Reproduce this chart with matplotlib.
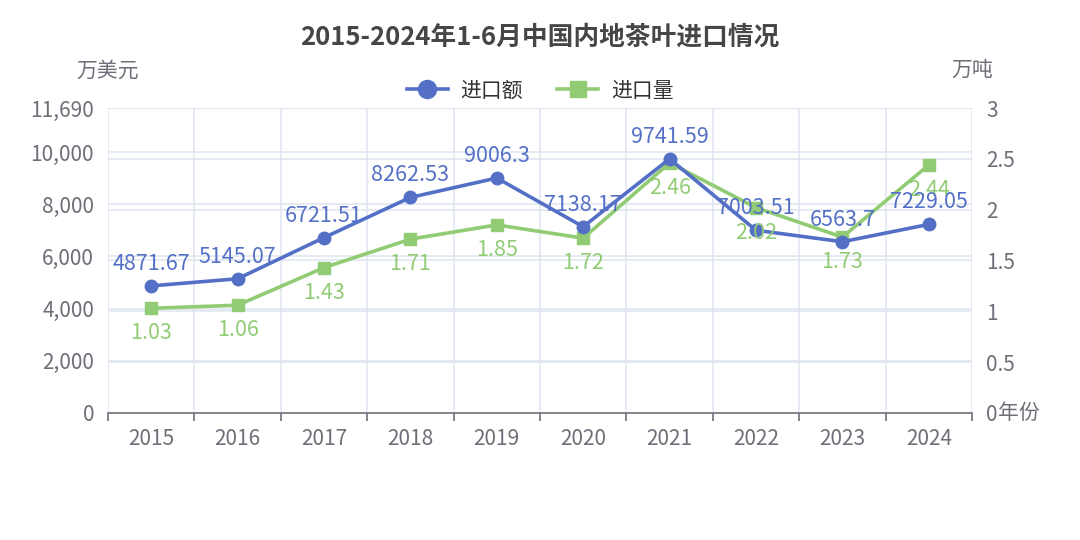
import matplotlib
matplotlib.use('Agg')
import matplotlib.pyplot as plt
import numpy as np

plt.rcParams['font.family'] = ['Noto Sans CJK SC', 'DejaVu Sans']

# ---------------------- Data ---------------------- #
years = ['2015', '2016', '2017', '2018', '2019', '2020', '2021', '2022', '2023', '2024']
import_value = [4871.67, 5145.07, 6721.51, 8262.53, 9006.3, 7138.17, 9741.59, 7003.51, 6563.7, 7229.05]  # 万美元
import_volume = [1.03, 1.06, 1.43, 1.71, 1.85, 1.72, 2.46, 2.02, 1.73, 2.44]  # 万吨
left_ticks = [0, 2000, 4000, 6000, 8000, 10000, 11690]
right_ticks = [0, 0.5, 1, 1.5, 2, 2.5, 3]

BLUE = '#5470c6'
GREEN = '#91cc75'
AXIS_GRAY = '#6e7079'
GRID = '#e0e6f1'
FS = 15

fig = plt.figure(figsize=(10.8, 5.4), dpi=100)
ax = fig.add_axes([0.1, 0.2352, 0.8, 0.5648])
ax2 = ax.twinx()

x = np.arange(len(years))
LEFT_MAX = left_ticks[-1]
RIGHT_MAX = right_ticks[-1]

# grid lines for both axes (echarts draws split lines of both y axes)
for v in left_ticks[1:]:
    ax.axhline(v, color=GRID, linewidth=1.2, zorder=0)
for v in right_ticks[1:]:
    ax2.axhline(v, color=GRID, linewidth=1.2, zorder=0)
for b in np.arange(-0.5, len(years) + 0.5, 1):
    ax.axvline(b, color=GRID, linewidth=1.2, zorder=0)

ax.set_xlim(-0.5, len(years) - 0.5)
ax.set_ylim(0, LEFT_MAX)
ax2.set_ylim(0, RIGHT_MAX)

# value series drawn on ax2 so it sits above the volume series
value_scaled = [v / LEFT_MAX * RIGHT_MAX for v in import_value]
ax2.plot(x, import_volume, color=GREEN, linewidth=2.6, marker='s', markersize=9,
         zorder=3, clip_on=False)
ax2.plot(x, value_scaled, color=BLUE, linewidth=2.6, marker='o', markersize=9,
         zorder=4, clip_on=False)

for xi, v, s in zip(x, import_value, value_scaled):
    ax2.annotate(f'{v:g}', (xi, s), xytext=(0, 8), textcoords='offset points',
                 ha='center', va='bottom', color=BLUE, fontsize=FS + 0.5, zorder=6)
for xi, v in zip(x, import_volume):
    ax2.annotate(f'{v:g}', (xi, v), xytext=(0, -10), textcoords='offset points',
                 ha='center', va='top', color=GREEN, fontsize=FS + 0.5, zorder=5)

# axes styling
for a in (ax, ax2):
    for sp in ('top', 'left', 'right', 'bottom'):
        a.spines[sp].set_visible(False)

ax.axhline(0, color=AXIS_GRAY, linewidth=1.2, zorder=5, clip_on=False)
ax.set_xticks(np.arange(-0.5, len(years) + 0.5, 1), minor=False)
ax.set_xticklabels([])
ax.tick_params(axis='x', which='major', length=6, color=AXIS_GRAY, width=1.2)
ax.set_xticks(x, minor=True)
ax.set_xticklabels(years, minor=True)
ax.tick_params(axis='x', which='minor', length=0, pad=11, labelsize=FS, labelcolor=AXIS_GRAY)

ax.set_yticks(left_ticks)
ax.set_yticklabels([f'{v:,}' for v in left_ticks])
ax.tick_params(axis='y', length=0, pad=10, labelsize=FS, labelcolor=AXIS_GRAY)

ax2.set_yticks(right_ticks)
ax2.set_yticklabels([f'{v:g}' for v in right_ticks])
ax2.tick_params(axis='y', length=0, pad=10, labelsize=FS, labelcolor=AXIS_GRAY)

# axis names
fig.text(0.1, 0.87, '万美元', ha='center', va='center', fontsize=FS, color=AXIS_GRAY)
fig.text(0.9, 0.87, '万吨', ha='center', va='center', fontsize=FS, color=AXIS_GRAY)
fig.text(0.924, 0.2352, '年份', ha='left', va='center', fontsize=FS, color=AXIS_GRAY)

fig.text(0.5, 0.931, '2015-2024年1-6月中国内地茶叶进口情况', ha='center', va='center',
         fontsize=18.5, fontweight='bold', color='#464646')

handles = [
    plt.Line2D([], [], color=BLUE, marker='o', markersize=13, linewidth=2.6),
    plt.Line2D([], [], color=GREEN, marker='s', markersize=12, linewidth=2.6),
]
fig.legend(handles, ['进口额', '进口量'], loc='center', bbox_to_anchor=(0.5, 0.832),
           ncol=2, frameon=False, fontsize=FS, handlelength=2.0, columnspacing=1.6,
           handletextpad=0.6, labelcolor='#333333')

fig.savefig('out.png', dpi=100)
